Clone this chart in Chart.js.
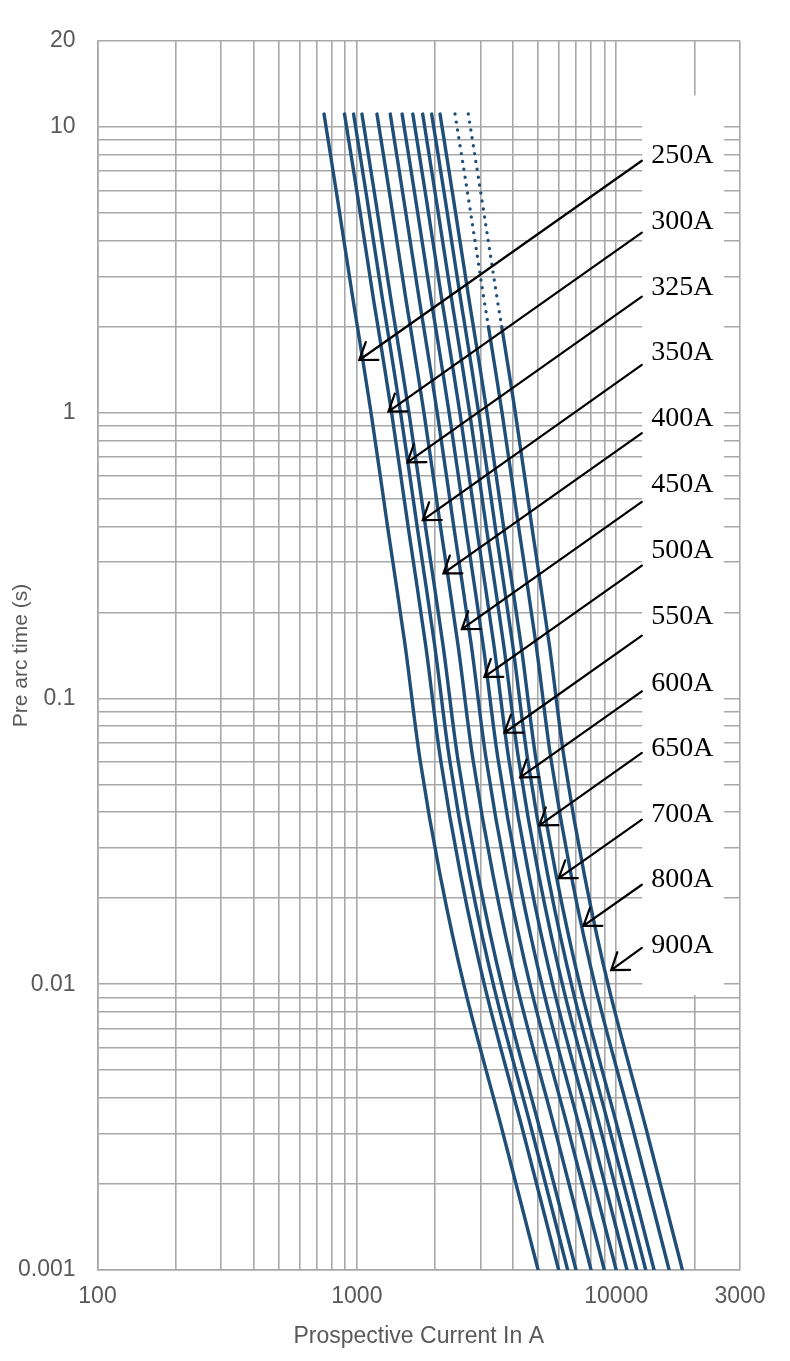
<!DOCTYPE html>
<html><head><meta charset="utf-8">
<script src="https://cdn.jsdelivr.net/npm/chart.js@4.4.1/dist/chart.umd.min.js"></script>
<style>html,body{margin:0;padding:0;background:#fff;}canvas{display:block;}</style>
</head><body>
<canvas id="c" width="790" height="1361"></canvas>
<script>
// ---- data ----
const fuseRatings = ['250A','300A','325A','350A','400A','450A','500A','550A','600A','650A','700A','800A','900A'];
const preArcTimes = [11.1, 5.55, 2.48, 2.0, 1.0, 0.389, 0.154, 0.0609, 0.0241, 0.00955, 0.00309, 0.001];
const current250A = [747, 843, 967, 1005, 1134, 1319, 1534, 1753, 2094, 2614, 3631, 4998];
const current300A = [896, 1012, 1160, 1206, 1361, 1583, 1841, 2104, 2513, 3137, 4357, 5998];
const current325A = [971, 1096, 1257, 1307, 1474, 1715, 1994, 2279, 2722, 3398, 4720, 6497];
const current350A = [1046, 1180, 1354, 1407, 1588, 1847, 2148, 2454, 2932, 3660, 5083, 6997];
const current400A = [1195, 1349, 1547, 1608, 1814, 2110, 2454, 2805, 3350, 4182, 5810, 7997];
const current450A = [1345, 1517, 1741, 1809, 2041, 2374, 2761, 3155, 3769, 4705, 6536, 8996];
const current500A = [1494, 1686, 1934, 2010, 2268, 2638, 3068, 3506, 4188, 5228, 7262, 9996];
const current550A = [1643, 1855, 2127, 2211, 2495, 2902, 3375, 3857, 4607, 5751, 7988, 10996];
const current600A = [1793, 2023, 2321, 2412, 2722, 3166, 3682, 4207, 5026, 6274, 8714, 11995];
const current650A = [1942, 2192, 2514, 2613, 2948, 3429, 3988, 4558, 5444, 6796, 9441, 12995];
const current700A = [2092, 2360, 2708, 2814, 3175, 3693, 4295, 4908, 5863, 7319, 10167, 13994];
const current800A = [2390, 2698, 3094, 3216, 3629, 4221, 4909, 5610, 6701, 8365, 11619, 15994];
const current900A = [2689, 3035, 3481, 3618, 4082, 4748, 5522, 6311, 7538, 9410, 13072, 17993];
const seriesCurrents = [current250A, current300A, current325A, current350A, current400A, current450A,
  current500A, current550A, current600A, current650A, current700A, current800A, current900A];
const dottedTopRatings = ['800A', '900A'];
const dottedAboveTime = 2.0;

// axis ticks
const xGridValues = [100,200,300,400,500,600,700,800,900,1000,2000,3000,4000,5000,6000,7000,8000,9000,10000,20000,30000];
const yGridValues = [0.001,0.002,0.003,0.004,0.005,0.006,0.007,0.008,0.009,
  0.01,0.02,0.03,0.04,0.05,0.06,0.07,0.08,0.09,
  0.1,0.2,0.3,0.4,0.5,0.6,0.7,0.8,0.9,
  1,2,3,4,5,6,7,8,9,10,20];
const xTickValues = [100, 1000, 10000, 30000];
const xTickTexts = ['100', '1000', '10000', '3000'];
const yTickValues = [0.001, 0.01, 0.1, 1, 10, 20];
const yTickTexts = ['0.001', '0.01', '0.1', '1', '10', '20'];

// annotation arrows (data coordinates)
const arrowHeadCurrents = [1022, 1323, 1566, 1795, 2156, 2539, 3102, 3706, 4260, 5055, 6005, 7473, 9557];
const arrowHeadTimes = [1.53, 1.01, 0.671, 0.421, 0.274, 0.175, 0.119, 0.0759, 0.053, 0.036, 0.0235, 0.0160, 0.0112];
const arrowTailCurrent = 12550;
const arrowTailTimes = [7.62, 4.27, 2.55, 1.47, 0.848, 0.488, 0.292, 0.166, 0.106, 0.0645, 0.0377, 0.0223, 0.0134];
const labelCurrent = 13630;
const labelTimes = [7.91, 4.65, 2.75, 1.62, 0.951, 0.559, 0.328, 0.193, 0.113, 0.0666, 0.0391, 0.0232, 0.0136];
const labelBoxCurrents = [12590, 26070];
const labelBoxTimes = [12.9, 0.00917];

// ---- styling ----
const LINE_COLOR = '#1f4e79';
const GRID_COLOR = '#a8a8a8';
const TEXT_COLOR = '#595959';

function findLabel(values, texts, v) {
  for (let i = 0; i < values.length; i++) {
    if (Math.abs(Math.log10(v) - Math.log10(values[i])) < 1e-6) return texts[i];
  }
  return '';
}

const datasets = fuseRatings.map((name, i) => {
  const dotted = dottedTopRatings.includes(name);
  return {
    label: name,
    data: seriesCurrents[i].map((c, k) => ({x: c, y: preArcTimes[k]})),
    borderColor: LINE_COLOR,
    borderWidth: 3.4,
    borderCapStyle: 'round',
    pointRadius: 0,
    fill: false,
    tension: 0.35,
    segment: dotted ? { borderDash: ctx => (ctx.p1.parsed.y >= dottedAboveTime - 0.01 ? [0, 8] : undefined) } : undefined
  };
});

const annotationPlugin = {
  id: 'fuseAnnotations',
  beforeDatasetsDraw(chart) {
    const {ctx, scales: {x, y}} = chart;
    const l = x.getPixelForValue(labelBoxCurrents[0]);
    const r = x.getPixelForValue(labelBoxCurrents[1]);
    const t = y.getPixelForValue(labelBoxTimes[0]);
    const b = y.getPixelForValue(labelBoxTimes[1]);
    ctx.save();
    ctx.fillStyle = '#ffffff';
    ctx.fillRect(l, t, r - l, b - t);
    ctx.restore();
  },
  afterDatasetsDraw(chart) {
    const {ctx, scales: {x, y}} = chart;
    ctx.save();
    ctx.strokeStyle = '#000';
    ctx.lineWidth = 2.2;
    ctx.lineCap = 'round';
    const tx = x.getPixelForValue(arrowTailCurrent);
    for (let i = 0; i < fuseRatings.length; i++) {
      const ty = y.getPixelForValue(arrowTailTimes[i]);
      const hx = x.getPixelForValue(arrowHeadCurrents[i]);
      const hy = y.getPixelForValue(arrowHeadTimes[i]);
      ctx.beginPath();
      ctx.moveTo(tx, ty);
      ctx.lineTo(hx, hy);
      const ang = Math.atan2(ty - hy, tx - hx);
      const wl = 19, wa = 35 * Math.PI / 180;
      ctx.moveTo(hx + wl * Math.cos(ang + wa), hy + wl * Math.sin(ang + wa));
      ctx.lineTo(hx, hy);
      ctx.lineTo(hx + wl * Math.cos(ang - wa), hy + wl * Math.sin(ang - wa));
      ctx.stroke();
    }
    ctx.fillStyle = '#000';
    ctx.font = '28px "Liberation Serif", "Times New Roman", serif';
    ctx.textAlign = 'left';
    ctx.textBaseline = 'middle';
    const lx = x.getPixelForValue(labelCurrent);
    for (let i = 0; i < fuseRatings.length; i++) {
      ctx.fillText(fuseRatings[i], lx, y.getPixelForValue(labelTimes[i]));
    }
    ctx.restore();
  }
};

new Chart(document.getElementById('c'), {
  type: 'line',
  data: { datasets },
  options: {
    responsive: false,
    animation: false,
    devicePixelRatio: 1,
    layout: { padding: { left: 0, right: 50, top: 41, bottom: 0 } },
    plugins: { legend: { display: false }, tooltip: { enabled: false } },
    scales: {
      x: {
        type: 'logarithmic',
        min: 100, max: 30000,
        afterBuildTicks: s => { s.ticks = xGridValues.map(v => ({value: v})); },
        afterFit: s => { s.height = 91; },
        grid: { color: GRID_COLOR, lineWidth: 1.6, drawTicks: false },
        border: { display: true, color: GRID_COLOR, width: 1.6 },
        ticks: {
          autoSkip: false, maxRotation: 0, padding: 13,
          color: TEXT_COLOR,
          font: { family: '"Liberation Sans", Arial, sans-serif', size: 23 },
          callback: v => findLabel(xTickValues, xTickTexts, v)
        },
        title: {
          display: true, text: 'Prospective Current In A', color: TEXT_COLOR,
          font: { family: '"Liberation Sans", Arial, sans-serif', size: 23 },
          padding: { top: 0, bottom: 11 }
        }
      },
      y: {
        type: 'logarithmic',
        min: 0.001, max: 20,
        afterBuildTicks: s => { s.ticks = yGridValues.map(v => ({value: v})); },
        afterFit: s => { s.width = 97.5; },
        grid: { color: GRID_COLOR, lineWidth: 1.6, drawTicks: false },
        border: { display: true, color: GRID_COLOR, width: 1.6 },
        ticks: {
          autoSkip: false, padding: 22,
          color: TEXT_COLOR,
          font: { family: '"Liberation Sans", Arial, sans-serif', size: 23 },
          callback: v => findLabel(yTickValues, yTickTexts, v)
        },
        title: {
          display: true, text: 'Pre arc time (s)', color: TEXT_COLOR,
          font: { family: '"Liberation Sans", Arial, sans-serif', size: 21 },
          padding: { top: 9, bottom: 0 }
        }
      }
    }
  },
  plugins: [annotationPlugin]
});
</script>
</body></html>
